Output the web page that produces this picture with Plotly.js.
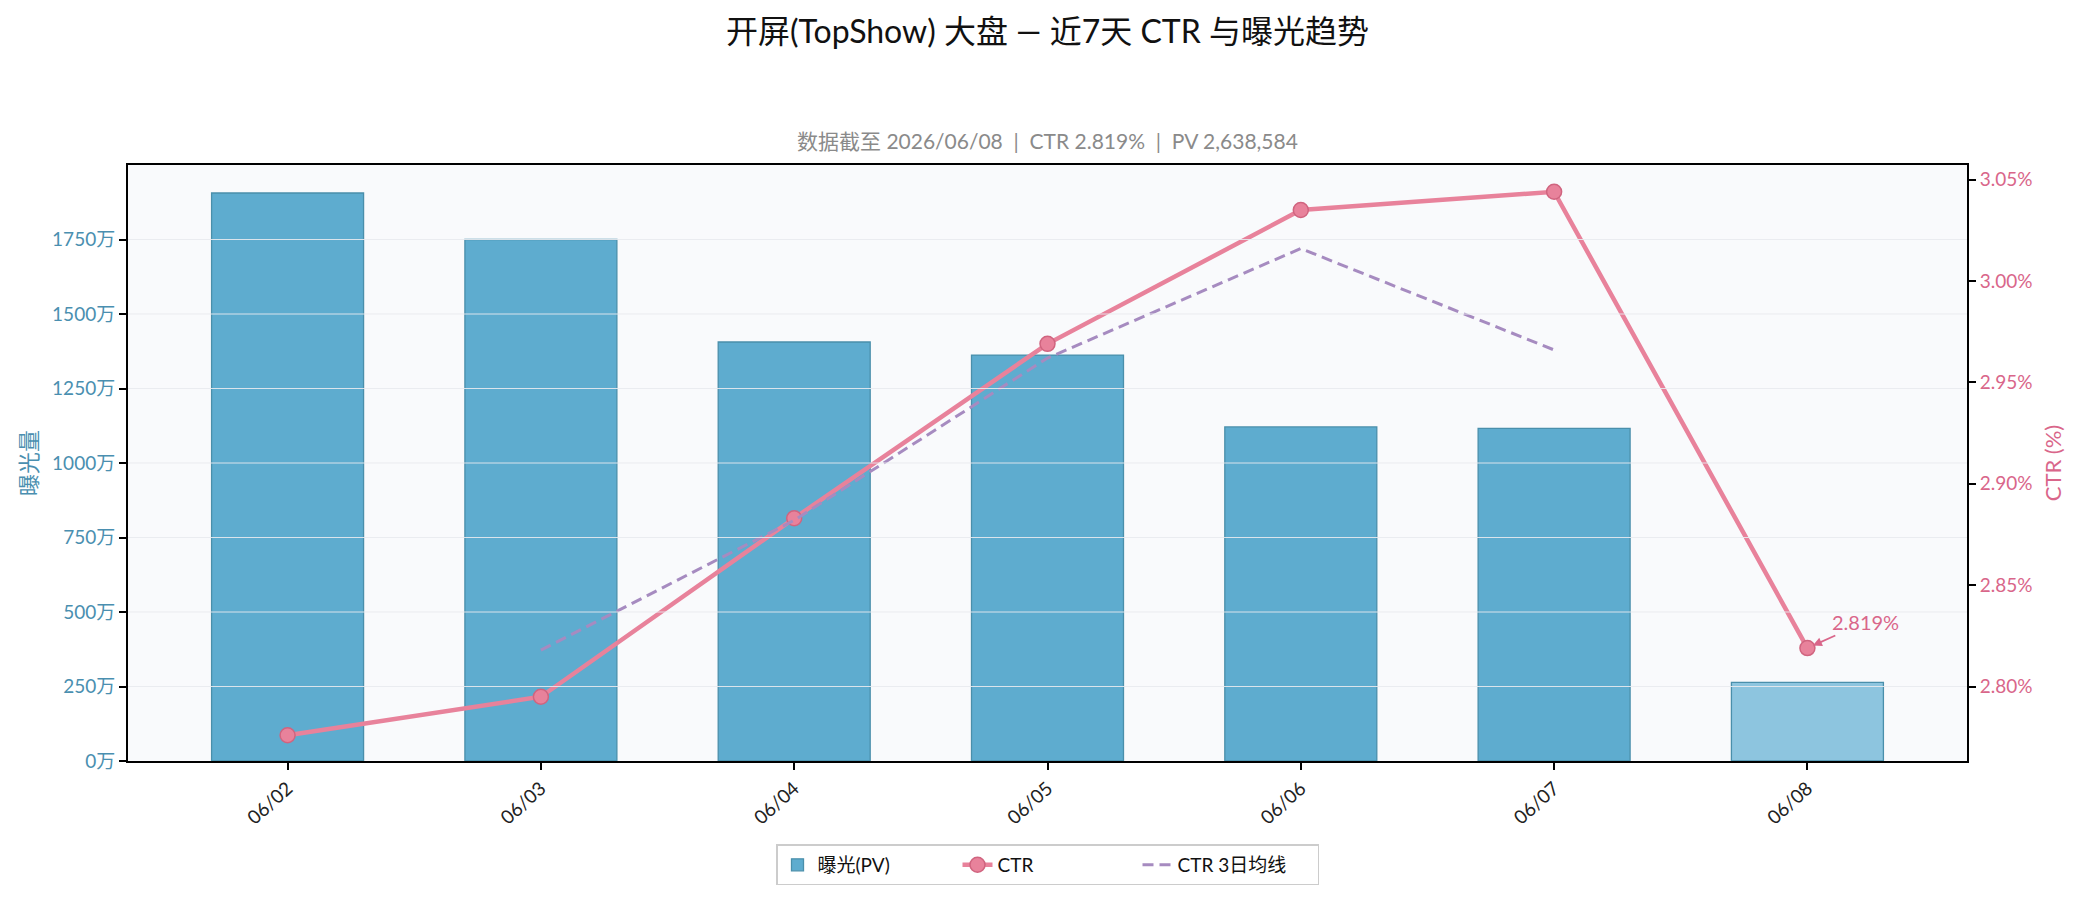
<!DOCTYPE html>
<html>
<head>
<meta charset="utf-8">
<script src="https://cdn.plot.ly/plotly-3.0.1.min.js"></script>
<style>
  html, body { margin: 0; padding: 0; background: #fff; }
  #chart { width: 2085px; height: 902px; }
</style>
</head>
<body>
<div id="chart"></div>
<script>
// data
var days = ['06/02', '06/03', '06/04', '06/05', '06/06', '06/07', '06/08']
var pvWan = [1906, 1750, 1406, 1362, 1121, 1116, 263.9]   // 曝光 in 万
var ctr = [2.776, 2.795, 2.883, 2.969, 3.035, 3.044, 2.819] // %
var ctrMa3 = [null, 2.818, 2.882, 2.962, 3.016, 2.966, null]
var pvTicks = [0, 250, 500, 750, 1000, 1250, 1500, 1750]
var ctrTicks = [2.80, 2.85, 2.90, 2.95, 3.00, 3.05]

var font = "Lato, 'Noto Sans CJK SC', sans-serif"
var blue = '#5eaccf'
var blueEdge = '#4a8fab'
var pink = '#e8829b'
var pinkText = '#d9668a'
var purple = '#a68bc0'

// last day is partial -> lighter bar
var barColors = days.map(function(d, i) {
    return i === days.length - 1 ? '#8dc5df' : blue
})

var bars = {
    x: days,
    y: pvWan,
    type: 'bar',
    name: '曝光(PV)',
    width: 0.6,
    marker: { color: barColors, line: { color: blueEdge, width: 1.3 } },
    yaxis: 'y'
}
var ctrLine = {
    x: days,
    y: ctr,
    type: 'scatter',
    mode: 'lines+markers',
    name: 'CTR',
    line: { color: pink, width: 4.5 },
    marker: { size: 15, color: pink, line: { color: '#d0647f', width: 1.5 } },
    yaxis: 'y2'
}
var maLine = {
    x: days,
    y: ctrMa3,
    type: 'scatter',
    mode: 'lines',
    name: 'CTR 3日均线',
    line: { color: purple, width: 3, dash: '11px,6px' },
    yaxis: 'y2'
}

// gridlines sit above the bars like in the original
var grid = pvTicks.slice(1).map(function(v) {
    return {
        type: 'line', xref: 'paper', yref: 'y', x0: 0, x1: 1, y0: v, y1: v,
        layer: 'above', line: { color: 'rgba(232,234,238,0.9)', width: 1 }
    }
})

var layout = {
    width: 2085,
    height: 902,
    margin: { l: 128, r: 118, t: 165, b: 141 },
    paper_bgcolor: '#ffffff',
    plot_bgcolor: '#f9fafc',
    font: { family: font, size: 18, color: '#222' },
    showlegend: true,
    legend: {
        orientation: 'h', x: 0.5, xanchor: 'center', y: -0.14, yanchor: 'top',
        bordercolor: '#cccccc', borderwidth: 1.5, bgcolor: '#ffffff',
        font: { size: 19, color: '#111' }, entrywidth: 135, tracegroupgap: 0
    },
    xaxis: {
        type: 'category',
        range: [-0.63, 6.63],
        tickangle: -42,
        ticks: 'outside', ticklen: 7, tickwidth: 1.5, tickcolor: '#000',
        tickfont: { size: 19, color: '#222' },
        showline: true, linecolor: '#000', linewidth: 2, mirror: true,
        showgrid: false, zeroline: false
    },
    yaxis: {
        range: [0, 2000],
        tickmode: 'array',
        tickvals: pvTicks,
        ticktext: pvTicks.map(function(v) { return v + '万' }),
        ticks: 'outside', ticklen: 7, tickwidth: 1.5, tickcolor: '#000',
        tickfont: { size: 19, color: '#4a8fb0' },
        title: { text: '曝光量', font: { size: 22, color: '#4a8fb0' }, standoff: 8 },
        showline: true, linecolor: '#000', linewidth: 2,
        showgrid: false, zeroline: false
    },
    yaxis2: {
        overlaying: 'y',
        side: 'right',
        range: [2.7633, 3.0572],
        tickmode: 'array',
        tickvals: ctrTicks,
        ticktext: ctrTicks.map(function(v) { return v.toFixed(2) + '%' }),
        ticks: 'outside', ticklen: 7, tickwidth: 1.5, tickcolor: '#000',
        tickfont: { size: 19, color: pinkText },
        title: { text: 'CTR (%)', font: { size: 22, color: pinkText }, standoff: 14 },
        showline: true, linecolor: '#000', linewidth: 2,
        showgrid: false, zeroline: false
    },
    shapes: grid,
    annotations: [
        {
            text: '开屏(TopShow) 大盘 — 近7天 CTR 与曝光趋势',
            xref: 'paper', yref: 'paper', x: 0.5, y: 1, yshift: 135,
            xanchor: 'center', yanchor: 'middle', showarrow: false,
            font: { size: 32, color: '#111' }
        },
        {
            text: '数据截至 2026/06/08  |  CTR 2.819%  |  PV 2,638,584',
            xref: 'paper', yref: 'paper', x: 0.5, y: 1, yshift: 25,
            xanchor: 'center', yanchor: 'middle', showarrow: false,
            font: { size: 21, color: '#8a8a8a' }
        },
        {
            text: ctr[6].toFixed(3) + '%',
            x: days[6], y: ctr[6], xref: 'x', yref: 'y2',
            ax: 58, ay: -26,
            showarrow: true, arrowhead: 2, arrowsize: 1, arrowwidth: 1.8,
            arrowcolor: pinkText, standoff: 6,
            font: { size: 20, color: pinkText }
        }
    ]
}

Plotly.newPlot('chart', [bars, ctrLine, maLine], layout, { displayModeBar: false })
</script>
</body>
</html>
